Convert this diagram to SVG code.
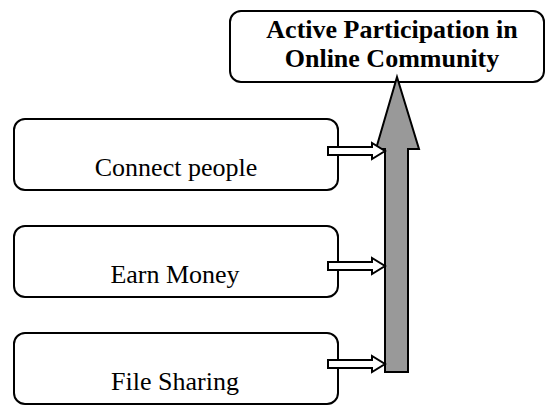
<svg xmlns="http://www.w3.org/2000/svg" width="546" height="405" viewBox="0 0 546 405">
  <style>
    .box { fill: #ffffff; stroke: #000000; stroke-width: 2; }
    .label { font-family: "Liberation Serif", "Times New Roman", serif; font-size: 26px; fill: #000000; text-anchor: middle; }
    .title { font-weight: bold; }
    .small-arrow { fill: #ffffff; stroke: #000000; stroke-width: 2; stroke-linejoin: miter; }
    .main-arrow { fill: #999999; stroke: #000000; stroke-width: 2; stroke-linejoin: miter; }
  </style>
  <rect width="546" height="405" fill="#ffffff"/>

  <!-- goal box -->
  <g id="goal">
    <rect class="box" x="230" y="11" width="314" height="71" rx="11" ry="11"/>
    <text class="label title" x="392" y="38">Active Participation in</text>
    <text class="label title" x="392" y="67">Online Community</text>
  </g>

  <!-- activity boxes -->
  <g id="connect-people">
    <rect class="box" x="14" y="119" width="324" height="71" rx="11" ry="11"/>
    <text class="label" x="176" y="176">Connect people</text>
  </g>
  <g id="earn-money">
    <rect class="box" x="14" y="226" width="324" height="71" rx="11" ry="11"/>
    <text class="label" x="175" y="283">Earn Money</text>
  </g>
  <g id="file-sharing">
    <rect class="box" x="14" y="333" width="324" height="71" rx="11" ry="11"/>
    <text class="label" x="175" y="390">File Sharing</text>
  </g>

  <!-- connectors -->
  <g id="connectors">
    <!-- upward main arrow -->
    <polygon class="main-arrow" points="397,77 419,149 408,149 408,372 385,372 385,149 376,149"/>
    <!-- block arrows from each activity into the main arrow -->
    <polygon class="small-arrow" points="328,147 372,147 372,143 385,151 372,159 372,155 328,155"/>
    <polygon class="small-arrow" points="328,262 372,262 372,258 385,266 372,274 372,270 328,270"/>
    <polygon class="small-arrow" points="328,360 372,360 372,356 385,364 372,372 372,368 328,368"/>
  </g>
</svg>
